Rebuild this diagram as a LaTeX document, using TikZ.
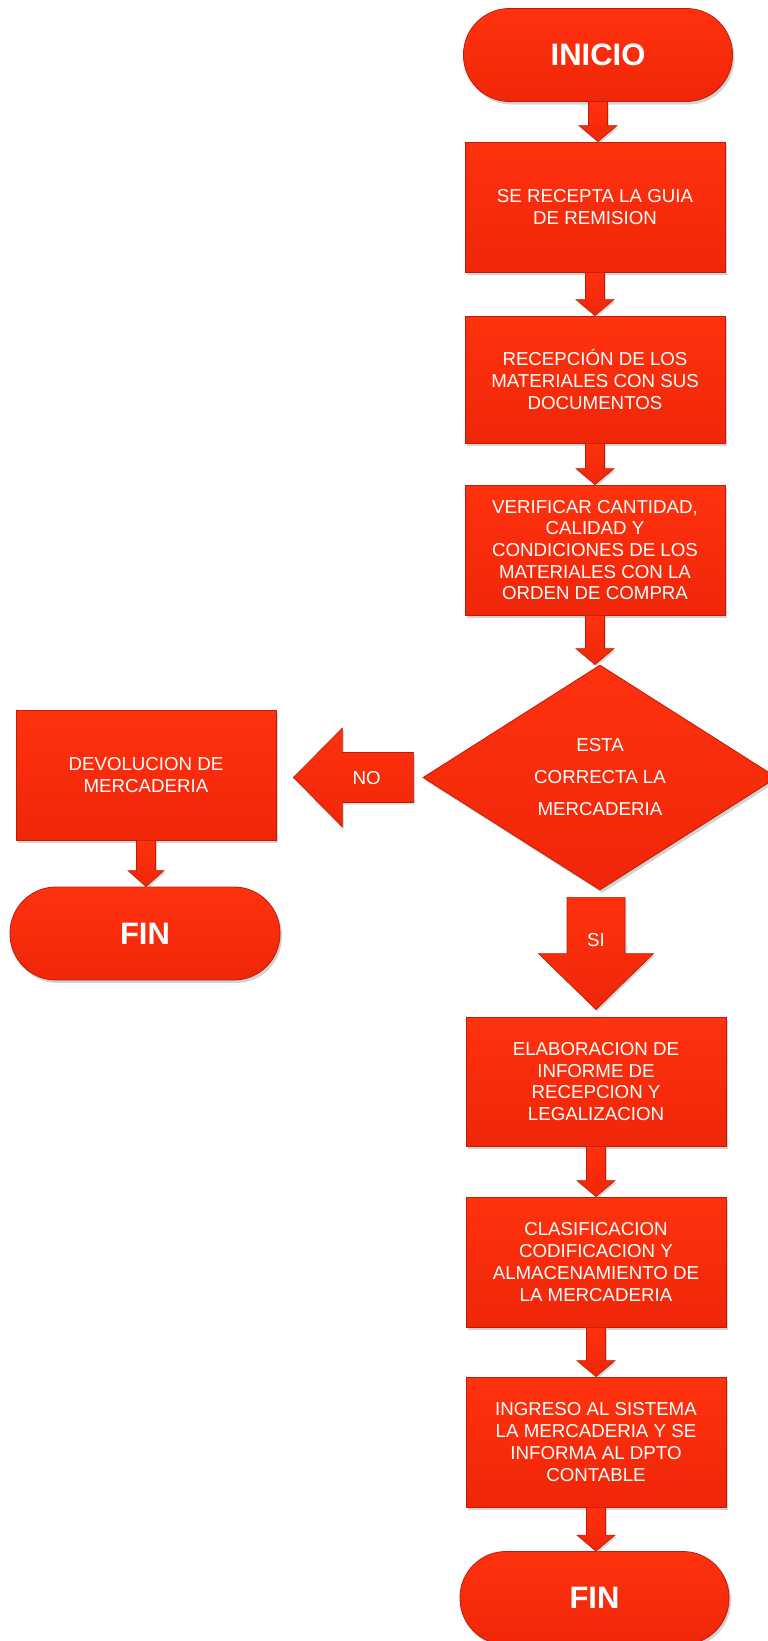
\documentclass[tikz,border=0pt]{standalone}
\usepackage{fontspec}
\setmainfont{Liberation Sans}
\usetikzlibrary{shapes.geometric,shadows,calc}

\definecolor{redtop}{RGB}{255,50,14}
\definecolor{redbot}{RGB}{240,38,9}
\definecolor{rededge}{RGB}{190,28,6}

\tikzset{
  shape3d/.style={top color=redtop, bottom color=redbot, draw=rededge, line width=0.8pt,
    drop shadow={opacity=0.35,shadow xshift=2pt,shadow yshift=-3pt}, text=white},
  procbox/.style={shape3d, rectangle, minimum width=260pt, minimum height=130pt,
    inner sep=0pt, align=center, font=\fontsize{18.7}{21.7}\selectfont},
  terminal/.style={shape3d, rectangle, rounded corners=46pt, minimum width=269pt,
    minimum height=93pt, font=\bfseries\fontsize{31}{36}\selectfont},
  decision/.style={shape3d, diamond, minimum width=354pt, minimum height=225pt,
    inner sep=0pt, align=center, font=\fontsize{18.7}{32}\selectfont},
  arrowfill/.style={top color=redtop, bottom color=redbot, draw=rededge, line width=0.6pt,
    drop shadow={opacity=0.3,shadow xshift=1.5pt,shadow yshift=-2pt}},
  arrowlabel/.style={text=white, font=\fontsize{18.7}{21.7}\selectfont, inner sep=0pt}
}

\newcommand{\dnarrow}[5]{\path[arrowfill] let \p1=(#1), \p2=(#2) in
  (\x1-#3,\y1) -- (\x1+#3,\y1) -- (\x1+#3,\y2+#5) -- (\x1+#4,\y2+#5) -- (\x1,\y2)
  -- (\x1-#4,\y2+#5) -- (\x1-#3,\y2+#5) -- cycle;}
\newcommand{\lfarrow}[5]{\path[arrowfill] let \p1=(#1), \p2=(#2) in
  (\x1,\y1+#3) -- (\x1,\y1-#3) -- (\x2+#5,\y1-#3) -- (\x2+#5,\y1-#4) -- (\x2,\y1)
  -- (\x2+#5,\y1+#4) -- (\x2+#5,\y1+#3) -- cycle;}

\begin{document}
\begin{tikzpicture}[x=1pt,y=-1pt]
\fill[white] (0,0) rectangle (768,1641);
\useasboundingbox (0,0) rectangle (768,1641);

\node[terminal] (inicio) at (598,55) {INICIO};
\node[procbox] (b1) at (595,207) {SE RECEPTA LA GUIA\\DE REMISION};
\node[procbox, minimum height=127pt] (b2) at (595,379.5) {RECEPCIÓN DE LOS\\MATERIALES CON SUS\\DOCUMENTOS};
\node[procbox] (b3) at (595,550) {VERIFICAR CANTIDAD,\\CALIDAD Y\\CONDICIONES DE LOS\\MATERIALES CON LA\\ORDEN DE COMPRA};
\node[decision] (d) at (600,777.5) {ESTA\\CORRECTA LA\\MERCADERIA};
\node[procbox] (dev) at (146,775) {DEVOLUCION DE\\MERCADERIA};
\node[terminal, minimum width=270pt] (fin1) at (145,933.5) {FIN};
\node[procbox, minimum height=129pt] (b4) at (596,1081.5) {ELABORACION DE\\INFORME DE\\RECEPCION Y\\LEGALIZACION};
\node[procbox] (b5) at (596,1262) {CLASIFICACION\\CODIFICACION Y\\ALMACENAMIENTO DE\\LA MERCADERIA};
\node[procbox] (b6) at (596,1442) {INGRESO AL SISTEMA\\LA MERCADERIA Y SE\\INFORMA AL DPTO\\CONTABLE};
\node[terminal] (fin2) at (594.5,1598) {FIN};

\dnarrow{inicio.south}{b1.north}{9.5pt}{19pt}{16pt}
\dnarrow{b1.south}{b2.north}{9.5pt}{19pt}{16pt}
\dnarrow{b2.south}{b3.north}{9.5pt}{19pt}{16pt}
\dnarrow{b3.south}{d.north}{9.5pt}{19pt}{16pt}
\dnarrow{dev.south}{fin1.north}{9.5pt}{18pt}{16pt}
\dnarrow{b4.south}{b5.north}{9.5pt}{19pt}{16pt}
\dnarrow{b5.south}{b6.north}{9.5pt}{19pt}{16pt}
\dnarrow{b6.south}{fin2.north}{9.5pt}{19pt}{16pt}

\dnarrow{$(d.south)+(-4,7)$}{$(b4.north)+(0,-7)$}{29pt}{57.5pt}{56pt}
\node[arrowlabel] (si) at ($(d.south)+(-4,50)$) {SI};

\lfarrow{$(d.west)+(-9,0)$}{$(dev.east)+(17,0)$}{25pt}{49.5pt}{49pt}
\node[arrowlabel] (no) at ($(d.west)+(-56,1)$) {NO};
\end{tikzpicture}
\end{document}
